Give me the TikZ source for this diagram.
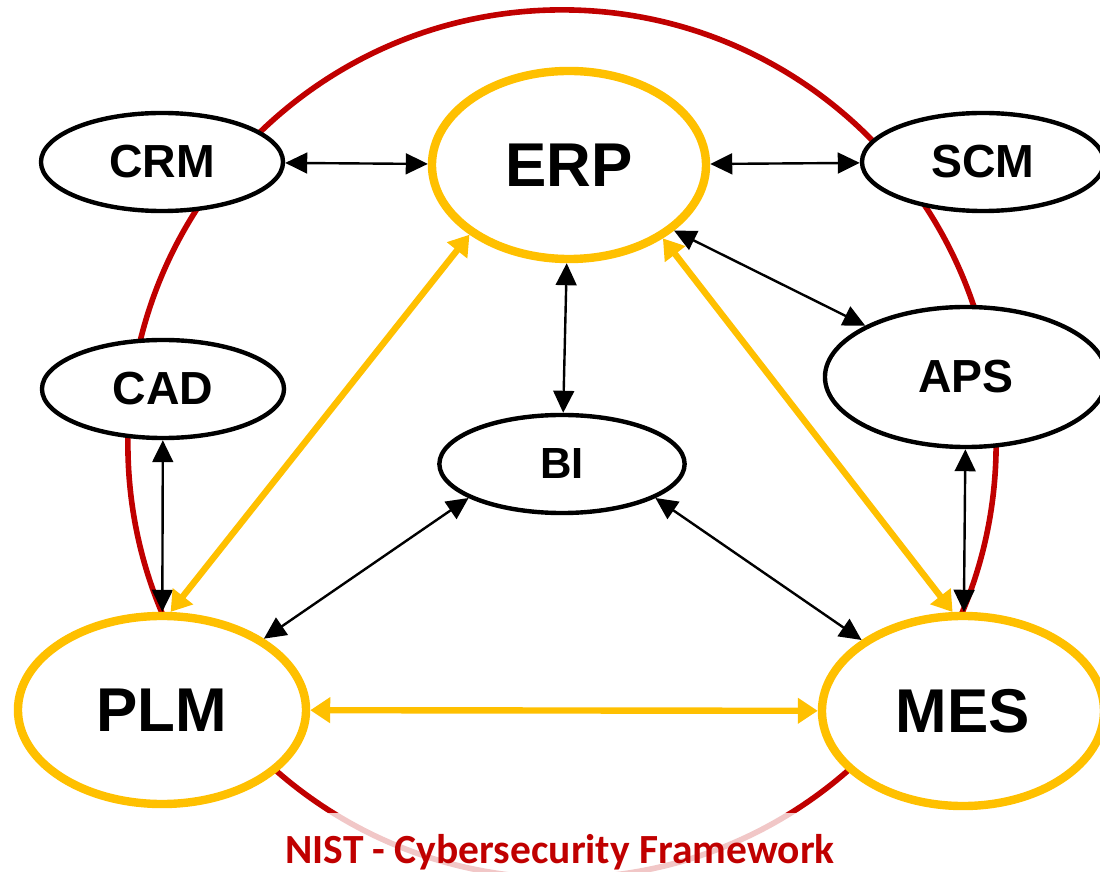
\documentclass[tikz,border=0pt]{standalone}
\usepackage{fontspec}
\setmainfont{Liberation Sans}
\newfontfamily\calibri{Carlito}
\usetikzlibrary{shapes.geometric, arrows.meta}
\definecolor{nistred}{HTML}{C00000}
\definecolor{gold}{HTML}{FFC000}

\begin{document}
\begin{tikzpicture}[x=0.025cm, y=-0.025cm,
	every system/.style={ellipse, draw, fill=white, inner sep=0pt},
	minor/.style={line width=0.11cm, minimum width=6.05cm, minimum height=2.45cm, font=\fontsize{33}{33}\selectfont\bfseries},
	core/.style={draw=gold, line width=0.21cm, font=\fontsize{44}{44}\selectfont\bfseries},
	link/.style={<->, line width=0.06cm, >={Triangle[length=0.55cm, width=0.52cm]}},
	goldlink/.style={<->, draw=gold, line width=0.16cm, >={Triangle[length=0.5cm, width=0.62cm]}}]
	\useasboundingbox (0,0) rectangle (1100,872);
	
	\draw [nistred, line width=0.14cm] (562,444) circle (10.85cm);
	\fill [white, opacity=0.78] (285,813) rectangle (840,872);
	
	\node [every system, minor] (crm) at (162,162) {CRM};
	\node [every system, minor] (scm) at (983,162) {SCM};
	\node [every system, minor] (cad) at (163,389) {CAD};
	\node [every system, minor, minimum width=7.05cm, minimum height=3.5cm] (aps) at (966,377) {APS};
	\node [every system, minor, minimum width=6.13cm, font=\fontsize{31}{31}\selectfont\bfseries] (bi) at (562,464) {BI};
	
	\node [every system, core, minimum width=6.85cm, minimum height=4.7cm] (erp) at (569,165) {ERP};
	\node [every system, core, minimum width=7.2cm, minimum height=4.7cm] (plm) at (162,710) {PLM};
	\node [every system, core, minimum width=7.05cm, minimum height=4.75cm] (mes) at (963,711) {MES};
	
	\foreach \a/\b in {crm/erp, erp/scm, erp/bi, erp.-32/aps.153, aps/mes, cad/plm, bi.200/plm.35, bi.-20/mes.145}
	\draw [link] (\a) -- (\b);
	
	\foreach \a/\b in {plm.85/erp.-145, mes.96/erp.-38, plm/mes}
	\draw [goldlink] (\a) -- (\b);
	
	\node [anchor=base, text=nistred, font=\calibri\bfseries\fontsize{29.5}{29.5}\selectfont] (title) at (560,863) {NIST - Cybersecurity Framework};
\end{tikzpicture}
\end{document}
